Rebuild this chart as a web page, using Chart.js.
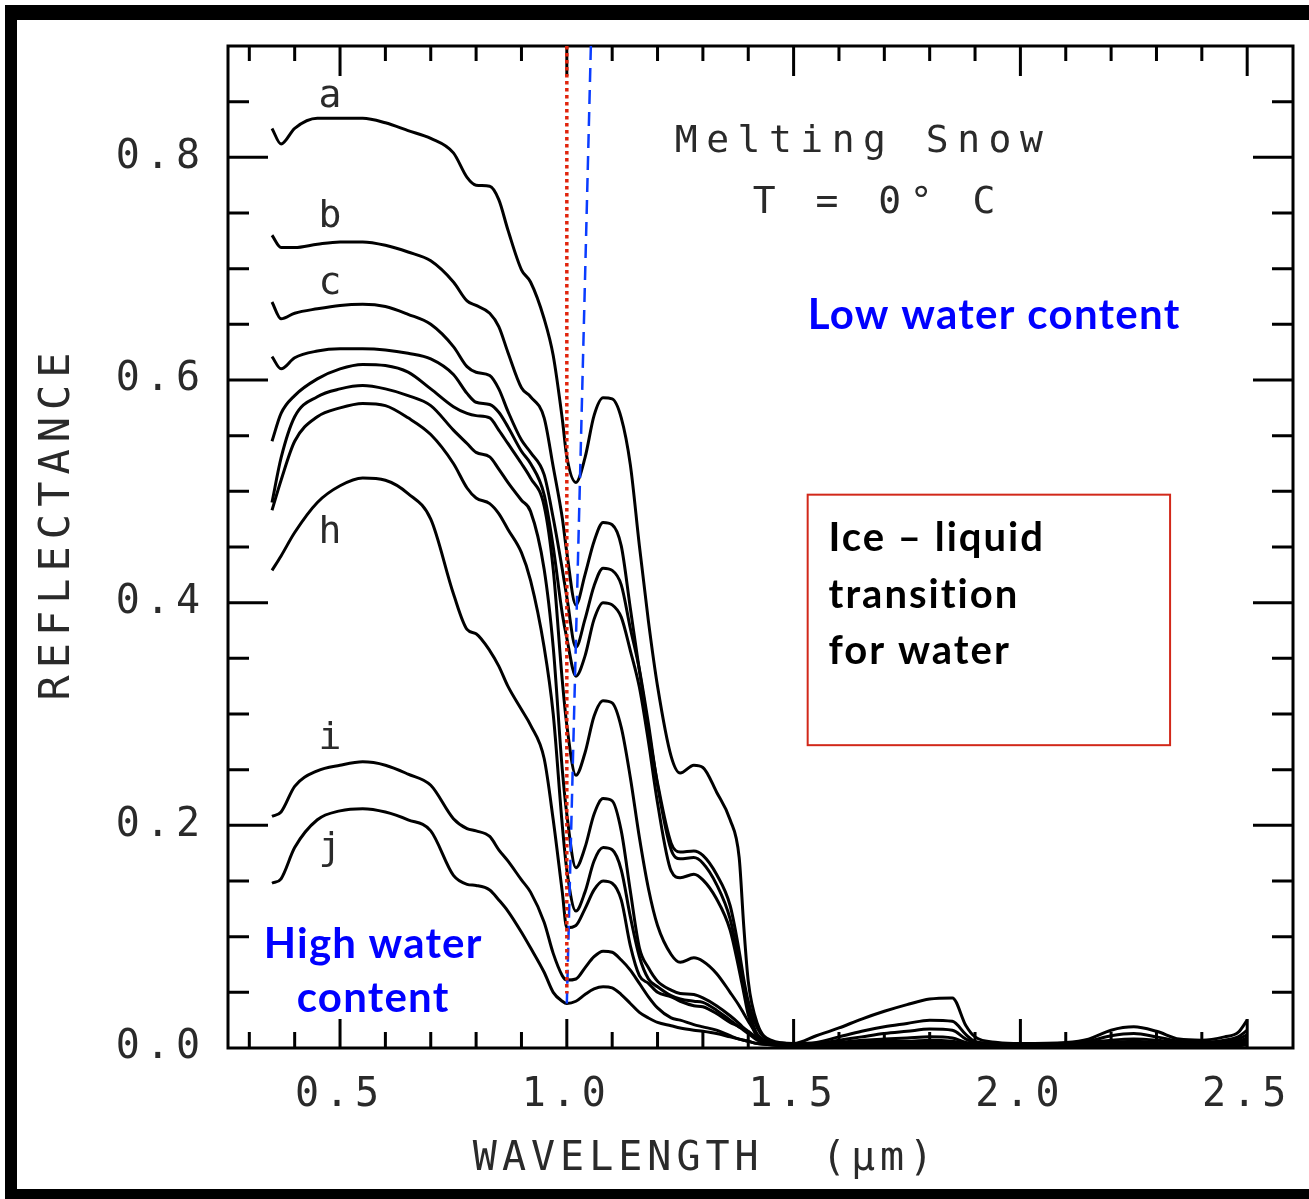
<!DOCTYPE html>
<html><head><meta charset="utf-8">
<script src="https://cdn.jsdelivr.net/npm/chart.js@4"></script>
<style>html,body{margin:0;padding:0;background:#fff;}canvas{display:block;}</style>
</head><body>
<canvas id="c" width="1309" height="1199"></canvas>
<script>
const wavelength = [0.35,0.37,0.40,0.45,0.50, 0.55,0.60,0.65,0.70,0.75, 0.78,0.80,0.83,0.85,0.87, 0.90,0.92,0.95,0.97,0.99,
  1.00,1.02,1.04,1.06,1.08, 1.10,1.12,1.14,1.16,1.18, 1.20,1.23,1.25,1.28,1.30, 1.33,1.36,1.38,1.39,1.40,
  1.42,1.45,1.50,1.55,1.60, 1.65,1.70,1.75,1.80,1.85, 1.88,1.90,1.95,2.00,2.10, 2.15,2.20,2.25,2.30,2.35, 2.40,2.45,2.48,2.50];

const curveA = [.826,.812,.826,.835,.835, .835,.831,.824,.817,.804, .782,.775,.774,.762,.735, .699,.688,.655,.622,.565,
  .531,.508,.530,.568,.584, .583,.566,.524,.451,.383, .325,.262,.247,.254,.252, .230,.205,.171,.110,.060,
  .022,.007,.004,.011,.018, .026,.033,.039,.044,.045, .020,.010,.005,.004,.005, .008,.016,.019,.015,.008, .007,.010,.014,.025];
const curveB = [.730,.719,.719,.722,.724, .724,.721,.715,.707,.688, .671,.667,.660,.648,.625, .593,.585,.566,.522,.476,
  .445,.398,.425,.455,.472, .470,.451,.395,.339,.286, .238,.184,.176,.177,.173, .156,.128,.087,.062,.042,
  .018,.006,.004,.005,.010, .015,.019,.022,.025,.024, .012,.006,.004,.004,.004, .006,.011,.013,.010,.006, .005,.007,.010,.016];
const curveC = [.670,.655,.660,.664,.667, .668,.666,.659,.650,.630, .612,.607,.604,.592,.572, .546,.535,.515,.476,.430,
  .405,.360,.385,.415,.431, .429,.416,.377,.340,.291, .236,.178,.170,.171,.166, .147,.116,.077,.056,.036,
  .012,.005,.004,.004,.007, .010,.013,.015,.017,.016, .008,.005,.004,.004,.004, .005,.007,.008,.007,.005, .005,.006,.008,.012];
const curveD = [.621,.610,.620,.626,.628, .628,.627,.624,.619,.605, .588,.580,.578,.571,.558, .536,.525,.497,.450,.390,
  .368,.334,.352,.385,.400, .398,.387,.357,.324,.275, .220,.159,.153,.156,.151, .134,.106,.070,.050,.030,
  .010,.004,.003,.004,.005, .007,.008,.009,.010,.009, .005,.004,.003,.003,.003, .004,.005,.006,.005,.004, .004,.005,.006,.009];
const curveE = [.545,.570,.586,.601,.610, .614,.613,.607,.592,.576, .570,.568,.566,.555,.543, .525,.512,.487,.430,.330,
  .290,.245,.265,.298,.312, .310,.288,.243,.189,.143, .110,.084,.077,.081,.078, .067,.050,.038,.031,.024,
  .012,.004,.003,.003,.004, .005,.006,.006,.007,.006, .004,.003,.003,.003,.003, .003,.004,.004,.004,.003, .003,.004,.005,.007];
const curveF = [.490,.530,.567,.585,.592, .595,.592,.586,.577,.555, .543,.535,.531,.520,.508, .492,.482,.430,.360,.250,
  .210,.162,.180,.210,.224, .222,.195,.141,.090,.072, .060,.052,.049,.048,.045, .038,.029,.022,.018,.015,
  .009,.004,.003,.002,.003, .004,.004,.005,.005,.005, .003,.003,.002,.002,.002, .003,.003,.003,.003,.002, .002,.003,.004,.006];
const curveG = [.483,.510,.545,.567,.575, .579,.577,.566,.551,.525, .503,.494,.489,.480,.466, .445,.420,.360,.300,.200,
  .160,.123,.140,.168,.180, .178,.160,.118,.082,.062, .055,.047,.044,.042,.041, .034,.025,.019,.017,.014,
  .008,.004,.003,.002,.002, .003,.003,.004,.004,.004, .003,.002,.002,.002,.002, .002,.003,.003,.003,.002, .002,.002,.003,.005];
const curveH = [.429,.442,.463,.490,.505, .512,.510,.498,.475,.408, .376,.372,.357,.343,.325, .304,.290,.260,.205,.140,
  .108,.110,.125,.142,.150, .148,.133,.092,.065,.058, .050,.046,.042,.038,.037, .031,.023,.019,.016,.013,
  .007,.003,.002,.002,.002, .003,.003,.003,.003,.003, .002,.002,.002,.002,.002, .002,.002,.002,.002,.002, .002,.002,.003,.004];
const curveI = [.208,.212,.235,.249,.254, .257,.254,.246,.236,.206, .197,.195,.190,.178,.168, .151,.140,.113,.085,.065,
  .061,.062,.072,.082,.087, .086,.079,.070,.058,.046, .036,.027,.025,.021,.019, .016,.011,.008,.007,.006,
  .004,.003,.002,.002,.002, .002,.002,.002,.002,.002, .002,.002,.002,.002,.002, .002,.002,.002,.002,.002, .002,.002,.002,.003];
const curveJ = [.148,.152,.180,.205,.213, .215,.212,.205,.195,.155, .147,.146,.142,.133,.123, .104,.090,.068,.050,.042,
  .040,.042,.048,.053,.055, .054,.048,.040,.032,.027, .023,.020,.018,.016,.015, .013,.010,.008,.007,.006,
  .004,.003,.002,.002,.002, .002,.002,.002,.002,.002, .002,.002,.002,.002,.002, .002,.002,.002,.002,.002, .002,.002,.002,.003];

const iceLineX = [1.0, 1.0];
const iceLineY = [0.9, 0.049];
const shiftLineX = [1.053, 1.0];
const shiftLineY = [0.9, 0.040];

const xTickValues = [0.5, 1.0, 1.5, 2.0, 2.5];
const xTickLabels = ['0.5', '1.0', '1.5', '2.0', '2.5'];
const yTickValues = [0.0, 0.2, 0.4, 0.6, 0.8];
const yTickLabels = ['0.0', '0.2', '0.4', '0.6', '0.8'];

const curveLabelText = ['a', 'b', 'c', 'h', 'i', 'j'];
const curveLabelX = [0.478, 0.478, 0.478, 0.478, 0.478, 0.478];
const curveLabelY = [0.845, 0.737, 0.677, 0.454, 0.269, 0.170];

const titleLines = ['Melting Snow', 'T = 0\u00B0 C'];
const titleX = [1.238, 1.41];
const titleY = [0.8045, 0.750];

const lowText = 'Low water content';
const lowX = 1.531, lowY = 0.6455;
const highLines = ['High water', 'content'];
const highX = 0.573;
const highY = [0.081, 0.032];
const boxX = [1.531, 2.330];
const boxY = [0.497, 0.272];
const boxLines = ['Ice \u2013 liquid', 'transition', 'for water'];
const boxTextX = 1.577;
const boxTextY = [0.446, 0.3955, 0.345];

const xTitle = 'WAVELENGTH  (\u00B5m)';
const yTitle = 'REFLECTANCE';

const PLOT = 'DejaVu Sans Mono';
const ANNO = 'Lato';
const PLOT_COLOR = '#2a2a2a';

const decor = {
  id: 'decor',
  beforeDraw(chart) {
    const ctx = chart.ctx;
    ctx.save();
    ctx.fillStyle = '#fff';
    ctx.fillRect(0, 0, chart.width, chart.height);
    ctx.fillStyle = '#000';
    ctx.fillRect(5, 5, chart.width - 5, 15);
    ctx.fillRect(5, 5, 12, chart.height - 5);
    ctx.fillRect(5, chart.height - 10, chart.width - 5, 10);
    ctx.restore();
    ctx.letterSpacing = '6px';
  },
  beforeDatasetsDraw(chart) {
    const ctx = chart.ctx;
    const {left, right, top, bottom} = chart.chartArea;
    const xs = chart.scales.x, ys = chart.scales.y;
    ctx.save();
    ctx.strokeStyle = '#000';
    ctx.lineWidth = 3;
    ctx.strokeRect(left, top, right - left, bottom - top);
    ctx.beginPath();
    for (let k = 3; k <= 25; k++) {
      const px = xs.getPixelForValue(k / 10);
      const major = k % 5 === 0;
      ctx.moveTo(px, bottom); ctx.lineTo(px, bottom - (major ? 29 : 16));
      ctx.moveTo(px, top); ctx.lineTo(px, top + (major ? 30 : 15));
    }
    for (let k = 1; k <= 17; k++) {
      const py = ys.getPixelForValue(k * 0.05);
      const major = k % 4 === 0;
      ctx.moveTo(left, py); ctx.lineTo(left + (major ? 40 : 21), py);
      ctx.moveTo(right, py); ctx.lineTo(right - (major ? 40 : 21), py);
    }
    ctx.stroke();
    ctx.restore();
  },
  afterDraw(chart) {
    const ctx = chart.ctx;
    ctx.letterSpacing = '0px';
    const {left, right, top, bottom} = chart.chartArea;
    const xs = chart.scales.x, ys = chart.scales.y;
    ctx.save();

    function txt(s, x, y, font, color, spacing, align) {
      ctx.font = font;
      ctx.fillStyle = color;
      ctx.letterSpacing = spacing;
      ctx.textAlign = align;
      ctx.textBaseline = 'alphabetic';
      ctx.fillText(s, x, y);
    }
    // axis titles
    ctx.save();
    ctx.translate(left - 170, (top + bottom) / 2 - 24);
    ctx.rotate(-Math.PI / 2);
    ctx.font = '42px "' + PLOT + '"';
    ctx.fillStyle = PLOT_COLOR;
    ctx.letterSpacing = '7px';
    ctx.textAlign = 'center';
    ctx.textBaseline = 'middle';
    ctx.fillText(yTitle, 0, 0);
    ctx.restore();
    txt(xTitle, (left + right) / 2 - 55, bottom + 122, '40px "' + PLOT + '"', PLOT_COLOR, '5px', 'center');

    // plot title
    titleLines.forEach((s, i) => txt(s, xs.getPixelForValue(titleX[i]), ys.getPixelForValue(titleY[i]),
      '38px "' + PLOT + '"', PLOT_COLOR, '8.5px', 'left'));
    // curve labels
    curveLabelText.forEach((s, i) => txt(s, xs.getPixelForValue(curveLabelX[i]), ys.getPixelForValue(curveLabelY[i]),
      '38px "' + PLOT + '"', PLOT_COLOR, '0px', 'center'));

    // annotations
    txt(lowText, xs.getPixelForValue(lowX), ys.getPixelForValue(lowY), 'bold 42px "' + ANNO + '"', '#0000ff', '1.3px', 'left');
    highLines.forEach((s, i) => txt(s, xs.getPixelForValue(highX), ys.getPixelForValue(highY[i]),
      'bold 42px "' + ANNO + '"', '#0000ff', '1.2px', 'center'));
    const bx0 = xs.getPixelForValue(boxX[0]), bx1 = xs.getPixelForValue(boxX[1]);
    const by0 = ys.getPixelForValue(boxY[0]), by1 = ys.getPixelForValue(boxY[1]);
    ctx.strokeStyle = '#d2281a';
    ctx.lineWidth = 2;
    ctx.strokeRect(bx0, by0, bx1 - bx0, by1 - by0);
    boxLines.forEach((s, i) => txt(s, xs.getPixelForValue(boxTextX), ys.getPixelForValue(boxTextY[i]),
      'bold 40px "' + ANNO + '"', '#000', '2px', 'left'));
    ctx.restore();
  }
};

const curves = [curveA, curveB, curveC, curveD, curveE, curveF, curveG, curveH, curveI, curveJ];
const curveNames = ['a', 'b', 'c', 'd', 'e', 'f', 'g', 'h', 'i', 'j'];

const datasets = [
  {
    label: 'ice-liquid', data: iceLineX.map((x, i) => ({x, y: iceLineY[i]})),
    borderColor: '#e0240c', borderWidth: 3.5, borderDash: [3.5, 3.5], pointRadius: 0, fill: false
  },
  {
    label: 'shift', data: shiftLineX.map((x, i) => ({x, y: shiftLineY[i]})),
    borderColor: '#0a3cff', borderWidth: 2.5, borderDash: [14, 8], pointRadius: 0, fill: false
  },
  ...curves.map((c, k) => ({
    label: curveNames[k],
    data: wavelength.map((w, i) => ({x: w, y: c[i]})),
    borderColor: '#000', borderWidth: 3, pointRadius: 0, fill: false,
    cubicInterpolationMode: 'monotone'
  }))
];

new Chart(document.getElementById('c'), {
  type: 'line',
  data: {datasets},
  plugins: [decor],
  options: {
    responsive: false,
    animation: false,
    events: [],
    layout: {padding: {left: 20, top: 40, right: 16, bottom: 20}},
    plugins: {legend: {display: false}, tooltip: {enabled: false}, title: {display: false}},
    scales: {
      x: {
        type: 'linear', min: 0.253, max: 2.601,
        grid: {display: false, drawTicks: false}, border: {display: false},
        afterBuildTicks: (s) => { s.ticks = xTickValues.map(v => ({value: v})); },
        afterFit: (s) => { s.height = 131; },
        ticks: {
          autoSkip: false, maxRotation: 0, padding: 24, color: PLOT_COLOR,
          font: {family: PLOT, size: 40},
          callback: (v, i) => xTickLabels[i]
        }
      },
      y: {
        type: 'linear', min: 0, max: 0.9,
        grid: {display: false, drawTicks: false}, border: {display: false},
        afterBuildTicks: (s) => { s.ticks = yTickValues.map(v => ({value: v})); },
        afterFit: (s) => { s.width = 208; },
        ticks: {
          autoSkip: false, padding: 22, color: PLOT_COLOR,
          font: {family: PLOT, size: 40},
          callback: (v, i) => yTickLabels[i]
        }
      }
    }
  }
});
</script>
</body></html>
